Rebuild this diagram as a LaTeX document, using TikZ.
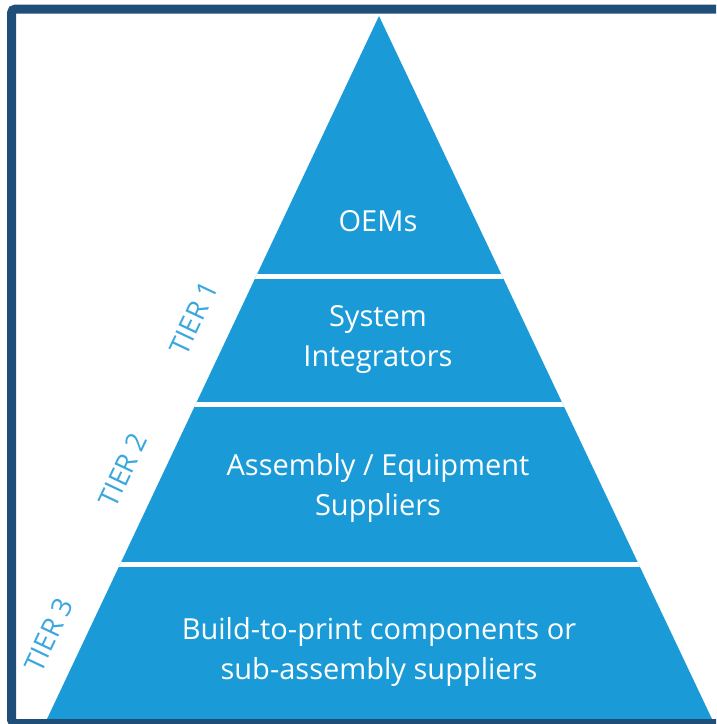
\documentclass[tikz,border=0pt]{standalone}
\usepackage{fontspec}
\setmainfont{Open Sans}
\definecolor{pyrfill}{HTML}{1A9BD7}
\definecolor{framecol}{HTML}{1F4E79}
\definecolor{tiercol}{HTML}{3BA7DF}
\tikzset{
  bandtext/.style={text=white, align=center, font=\fontsize{29}{40}\selectfont, inner sep=0pt},
  tiertext/.style={text=tiercol, font=\fontsize{27.5}{30}\selectfont, rotate=64.7, inner sep=0pt},
  sepline/.style={draw=white, line width=4.5pt}
}
\begin{document}
\begin{tikzpicture}[x=1pt,y=-1pt]
\useasboundingbox (0,0) rectangle (716,724);
\begin{scope}
\clip (0,0) rectangle (716,724);
\coordinate (apex) at (379,16);
\coordinate (bl) at (47,719);
\coordinate (br) at (712,719);
\fill[pyrfill] (apex) -- (br) -- (bl) -- cycle;
\begin{scope}
\clip (apex) -- (br) -- (bl) -- cycle;
\coordinate (s1l) at (0,276.5); \coordinate (s1r) at (716,276.5);
\coordinate (s2l) at (0,404.5); \coordinate (s2r) at (716,404.5);
\coordinate (s3l) at (0,564.5); \coordinate (s3r) at (716,564.5);
\draw[sepline] (s1l) -- (s1r);
\draw[sepline] (s2l) -- (s2r);
\draw[sepline] (s3l) -- (s3r);
\end{scope}
\node[bandtext] (oem) at (378,221) {OEMs};
\node[bandtext] (sys) at (378,339) {System\\Integrators};
\node[bandtext] (asm) at (378,488) {Assembly / Equipment\\Suppliers};
\node[bandtext] (bld) at (379,652) {Build-to-print components or\\sub-assembly suppliers};
\node[tiertext] (t1) at (194,318) {TIER 1};
\node[tiertext] (t2) at (123,470) {TIER 2};
\node[tiertext] (t3) at (49,635) {TIER 3};
\draw[framecol, line width=9pt, rounded corners=4pt] (11.5,9) rectangle (730,723.5);
\end{scope}
\end{tikzpicture}
\end{document}
